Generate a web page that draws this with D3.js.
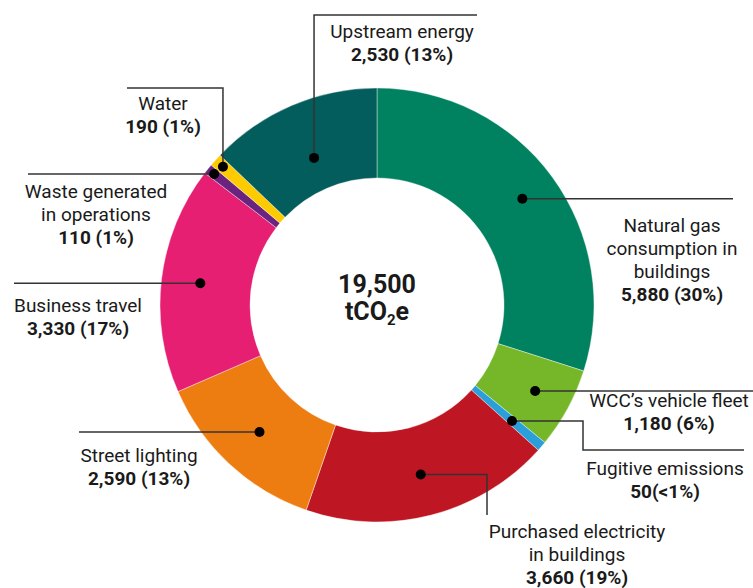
<!DOCTYPE html>
<html>
<head>
<meta charset="utf-8">
<style>
  body { margin: 0; background: #fff; }
  svg { display: block; font-family: Roboto, "Open Sans", sans-serif; }
  .lbl { font-size: 19px; fill: #1a1a1a; }
  .lbl .val { font-weight: 700; }
  .leader { fill: none; stroke: #333; stroke-width: 1.5; }
</style>
</head>
<body>
<svg width="753" height="588"></svg>
<script src="https://d3js.org/d3.v7.min.js"></script>
<script>
// data, clockwise from 12 o'clock
const categories = ["Natural gas consumption in buildings", "WCC\u2019s vehicle fleet", "Fugitive emissions",
  "Purchased electricity in buildings", "Street lighting", "Business travel",
  "Waste generated in operations", "Water", "Upstream energy"];
const values = [5880, 1180, 50, 3660, 2590, 3330, 110, 190, 2530];
const valueLabels = ["5,880 (30%)", "1,180 (6%)", "50(<1%)", "3,660 (19%)", "2,590 (13%)",
  "3,330 (17%)", "110 (1%)", "190 (1%)", "2,530 (13%)"];
const colors = ["#00815f", "#76b72a", "#2a9fd9", "#be1622", "#ee7d11", "#e61f73", "#6a237f", "#fecb00", "#045d5d"];
const totalLabel = "19,500";

// label text lines (wrapped as in the original)
const nameLines = [["Natural gas", "consumption in", "buildings"], ["WCC\u2019s vehicle fleet"], ["Fugitive emissions"],
  ["Purchased electricity", "in buildings"], ["Street lighting"], ["Business travel"],
  ["Waste generated", "in operations"], ["Water"], ["Upstream energy"]];

const svg = d3.select("svg");
const cx = 377, cy = 305, rOuter = 217, rInner = 127;
const g = svg.append("g").attr("transform", `translate(${cx},${cy})`);

// tiny slices get a minimum visible width so they can be seen
const total = d3.sum(values);
const minShown = total * 0.0075;
const pie = d3.pie().sort(null).value(d => Math.max(d, minShown))(values);
const arc = d3.arc().innerRadius(rInner).outerRadius(rOuter);

g.selectAll("path.slice")
  .data(pie)
  .join("path")
  .attr("class", "slice")
  .attr("d", arc)
  .attr("fill", (d, i) => colors[i])
  .attr("stroke", "#fff")
  .attr("stroke-width", 0.4);

// layout of the callouts: dot radius, leader elbow points, text anchor
const layout = [
  { r: 180, pts: [[733, null]], tx: 672, ty: 232 },
  { r: 180, pts: [[753, null]], tx: 669, ty: 407 },
  { r: 178, pts: [[583, null], [583, 450], [744, 450]], tx: 665, ty: 475 },
  { r: 175, pts: [[487, null], [487, 515]], tx: 577, ty: 538 },
  { r: 173, pts: [[79, null]], tx: 139, ty: 462 },
  { r: 178, pts: [[14, null]], tx: 78, ty: 312 },
  { r: 209, pts: [[28, null]], tx: 96, ty: 198 },
  { r: 207, pts: [[null, 88], [127, 88]], tx: 163, ty: 110 },
  { r: 160, pts: [[null, 15], [477, 15]], tx: 402, ty: 38 }
];

const lineH = 23;
pie.forEach((d, i) => {
  const L = layout[i];
  const a = (d.startAngle + d.endAngle) / 2;
  const dx = cx + L.r * Math.sin(a), dy = cy - L.r * Math.cos(a);
  const pts = [[dx, dy]].concat(L.pts.map(p => [p[0] == null ? dx : p[0], p[1] == null ? dy : p[1]]));
  svg.append("path").attr("class", "leader").attr("d", d3.line()(pts));
  svg.append("circle").attr("cx", dx).attr("cy", dy).attr("r", 5).attr("fill", "#000");

  const t = svg.append("text").attr("class", "lbl").attr("text-anchor", "middle");
  const lines = nameLines[i];
  lines.forEach((s, k) => {
    t.append("tspan").attr("x", L.tx).attr("y", L.ty + k * lineH).text(s);
  });
  t.append("tspan").attr("class", "val").attr("x", L.tx).attr("y", L.ty + lines.length * lineH).text(valueLabels[i]);
});

// centre total
const ct = svg.append("text").attr("text-anchor", "middle")
  .attr("font-weight", 700).attr("font-size", 25).attr("fill", "#1a1a1a");
ct.append("tspan").attr("x", cx).attr("y", 293).text(totalLabel);
const t2 = ct.append("tspan").attr("x", cx).attr("y", 320);
t2.append("tspan").text("tCO");
t2.append("tspan").attr("font-size", 15).attr("dy", 5).text("2");
t2.append("tspan").attr("dy", -5).text("e");
</script>
</body>
</html>
